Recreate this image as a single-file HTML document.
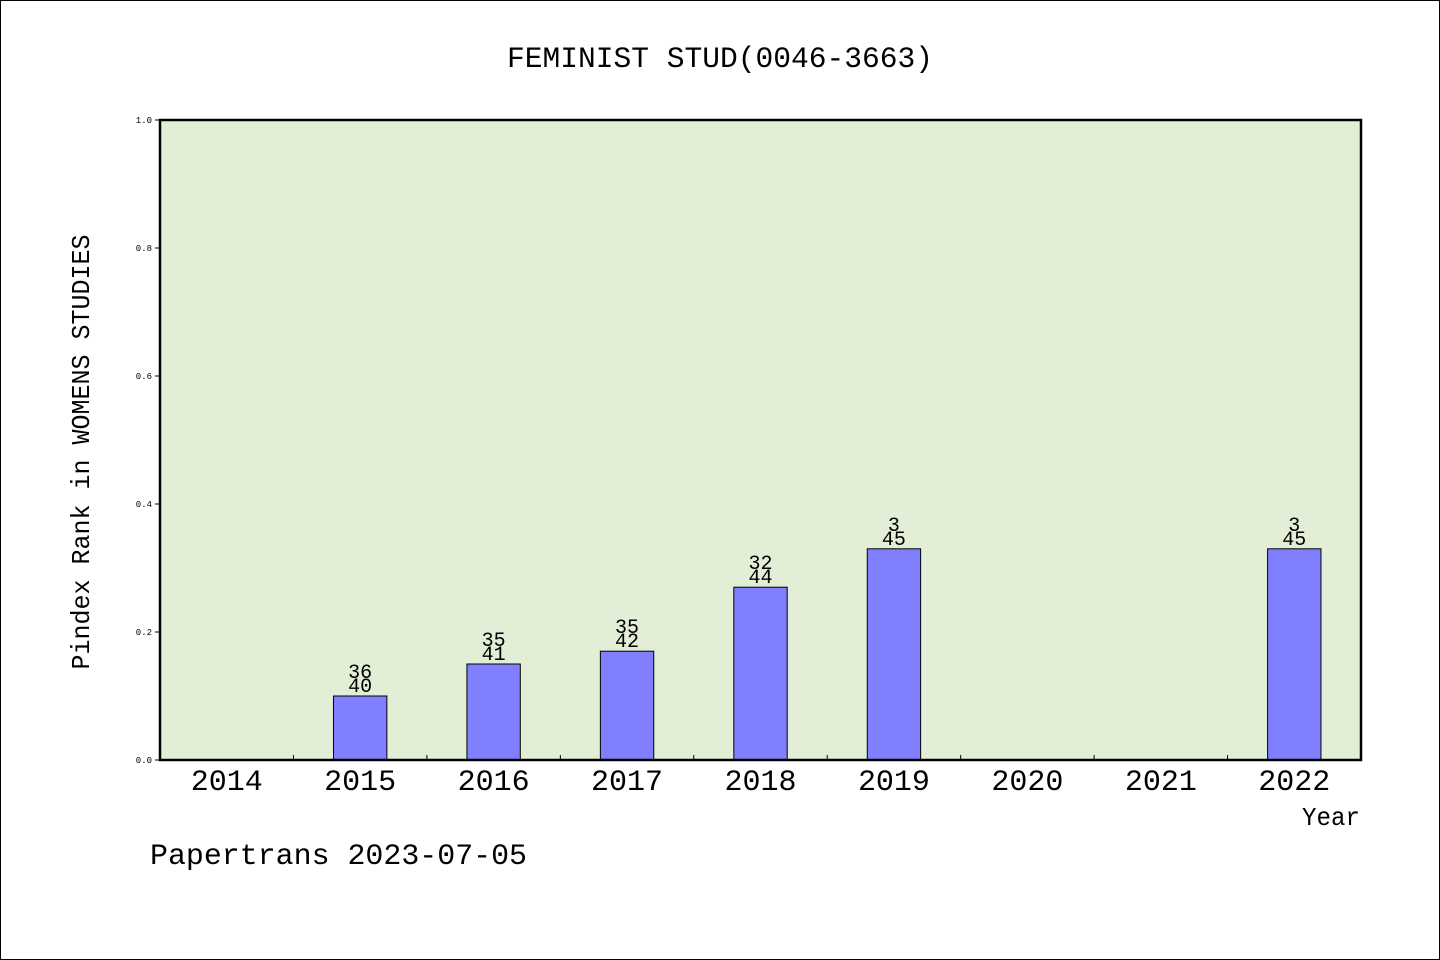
<!DOCTYPE html>
<html><head><meta charset="utf-8"><style>
html,body{margin:0;padding:0;background:#fff}
svg{display:block}
text{font-family:"Liberation Mono","WenQuanYi Zen Hei",monospace;fill:#000}
</style></head><body>
<svg id="chart" width="1440" height="960" xmlns="http://www.w3.org/2000/svg">
<rect x="0.5" y="0.5" width="1439" height="959" fill="#fff" stroke="#000"/>
<text x="720" y="67" text-anchor="middle" font-size="30" textLength="426" lengthAdjust="spacingAndGlyphs">FEMINIST STUD(0046-3663)</text>
<rect x="160" y="120" width="1201" height="640" fill="#e2efd6"/>
<g id="marks"></g>
<rect x="160" y="120" width="1201" height="640" fill="none" stroke="#000" stroke-width="2.5"/>
<text transform="translate(89,452) rotate(-90)" text-anchor="middle" font-size="26" textLength="435" lengthAdjust="spacingAndGlyphs">Pindex Rank in WOMENS STUDIES</text>
<text x="1360" y="825" text-anchor="end" font-size="26" textLength="58" lengthAdjust="spacingAndGlyphs">Year</text>
<text x="150" y="864" font-size="30" textLength="377" lengthAdjust="spacingAndGlyphs">Papertrans 2023-07-05</text>
</svg>
<script>
const categories=["2014","2015","2016","2017","2018","2019","2020","2021","2022"];
const values=[null,0.10,0.15,0.17,0.27,0.33,null,null,0.33];
const ranks=[null,"36","35","35","32","3",null,null,"3"];
const totals=[null,"40","41","42","44","45",null,null,"45"];
const yTicks=[0,0.2,0.4,0.6,0.8,1.0];
const yTickLabels=["0.0","0.2","0.4","0.6","0.8","1.0"];
const L=160,R=1361,T=120,B=760;
const band=(R-L)/categories.length;
const xc=i=>L+band*(i+0.5);
const y=v=>B-(v/1.0)*(B-T);
const g=document.getElementById('marks');
const NS="http://www.w3.org/2000/svg";
function mk(tag,attrs){const e=document.createElementNS(NS,tag);for(const k in attrs)e.setAttribute(k,attrs[k]);g.appendChild(e);return e;}
yTicks.forEach((t,i)=>{
  const ln=mk('line',{x1:L-5,x2:L,y1:y(t),y2:y(t),stroke:'#000'});
  
  
  const tx=mk('text',{x:L-8,y:y(t)+3,'text-anchor':'end','font-size':9});
  tx.textContent=yTickLabels[i];
  
  
});
categories.forEach((c,i)=>{
  if(i>0){const tk=mk('line',{x1:L+band*i,x2:L+band*i,y1:B-5,y2:B,stroke:'#000'});
  
  }
  const tx=mk('text',{x:xc(i),y:B+30,'text-anchor':'middle','font-size':30,textLength:72,lengthAdjust:'spacingAndGlyphs'});
  tx.textContent=c;
  
  
  const v=values[i];
  if(v!=null){
    const w=band*0.4;
    const r=mk('rect',{x:xc(i)-w/2,y:y(v),width:w,height:B-y(v),fill:'#8080ff',stroke:'#000','stroke-width':1});
    
    
    const t1=mk('text',{x:xc(i),y:y(v)-18,'text-anchor':'middle','font-size':20});
    t1.textContent=ranks[i];
    
    
    const t2=mk('text',{x:xc(i),y:y(v)-4,'text-anchor':'middle','font-size':20});
    t2.textContent=totals[i];
    
    
  }
});
</script>
</body></html>
